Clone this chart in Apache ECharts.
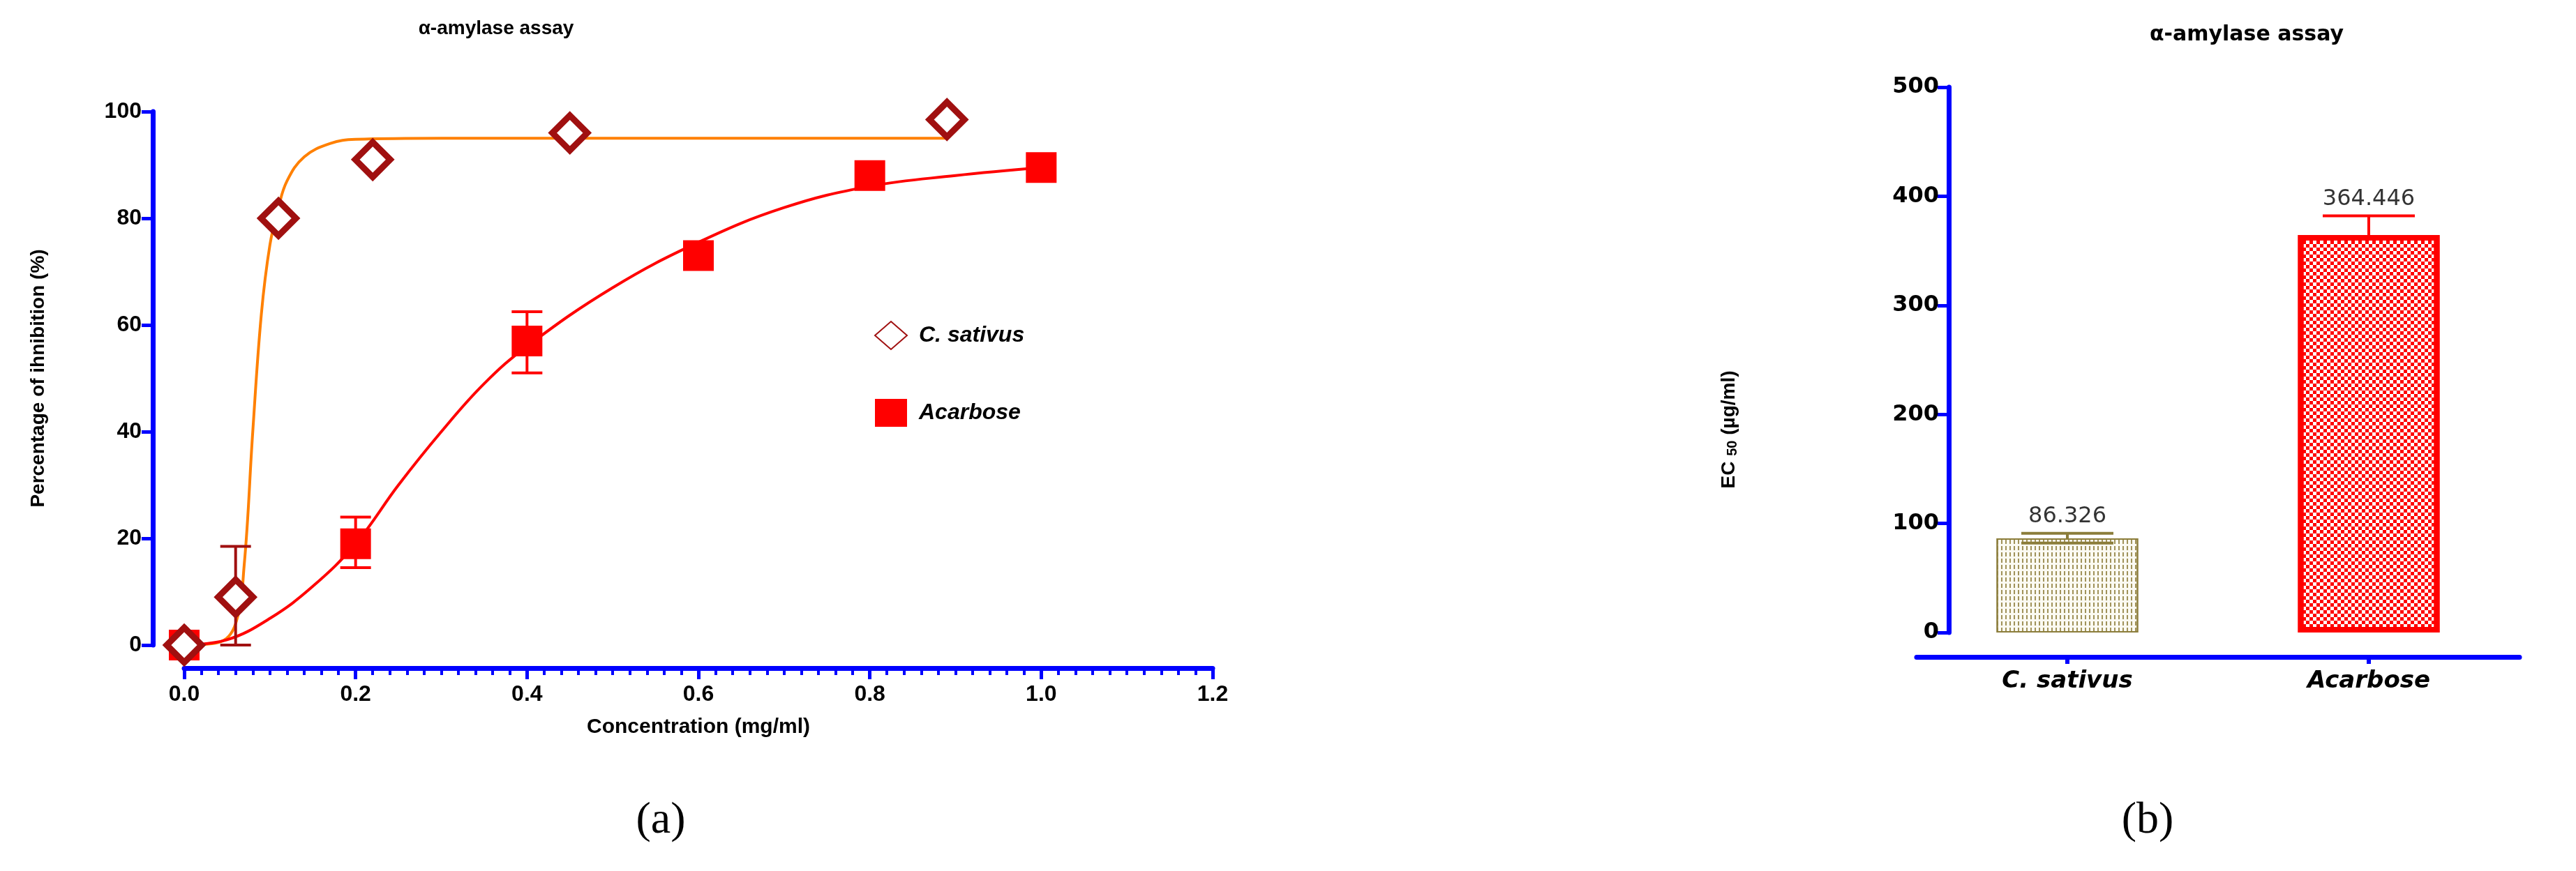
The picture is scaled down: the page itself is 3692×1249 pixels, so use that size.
<!DOCTYPE html>
<html style="height:100%">
<head>
<meta charset="utf-8">
<script src="https://cdn.jsdelivr.net/npm/echarts@6/dist/echarts.min.js"></script>
</head>
<body style="height:100%;margin:0;background:#fff">
<div id="container" style="width:3692px;height:1249px"></div>
<script type="text/javascript">

// panel (a): measured points
let sativusX = [0, 0.06, 0.11, 0.22, 0.45, 0.89]
let sativusY = [0, 9, 80, 91, 96, 98.5]
let acarboseX = [0, 0.2, 0.4, 0.6, 0.8, 1.0]
let acarboseY = [0, 19, 57, 73, 88, 89.5]
// error bars [x, low, high]
let sativusErr = [[0.06, 0, 18.5]]
let acarboseErr = [[0.2, 14.5, 24], [0.4, 51, 62.5]]
// fitted curves
let sativusFitX = [0, 0.04, 0.06, 0.07, 0.08, 0.09, 0.1, 0.11, 0.12, 0.14, 0.17, 0.2, 0.3, 0.89]
let sativusFitY = [0, 0.5, 4, 15, 40, 62, 75, 82, 87, 91.5, 94, 94.8, 95, 95]
let acarboseFitX = [0, 0.05, 0.1, 0.15, 0.2, 0.25, 0.3, 0.35, 0.4, 0.5, 0.6, 0.7, 0.8, 0.9, 1.0]
let acarboseFitY = [0, 1, 5, 11, 19, 30, 40, 49, 56, 67, 75.5, 82, 86, 88, 89.5]

// panel (b)
let categories = ['C. sativus', 'Acarbose']
let ec50 = [86.326, 364.446]
let ec50Err = [[0, 82, 91], [1, null, 382]]

let zip = (xs, ys) => xs.map((x, i) => [x, ys[i]])

function errBar(color) {
    return function (params, api) {
        let x = api.value(0), lo = api.value(1), hi = api.value(2)
        let top = api.coord([x, hi])
        let mid = api.coord([x, lo])
        let w = 22
        return {
            type: 'group',
            children: [
                {type: 'line', shape: {x1: top[0], y1: top[1], x2: mid[0], y2: mid[1]}, style: {stroke: color, lineWidth: 4}},
                {type: 'line', shape: {x1: top[0] - w, y1: top[1], x2: top[0] + w, y2: top[1]}, style: {stroke: color, lineWidth: 4}},
                {type: 'line', shape: {x1: mid[0] - w, y1: mid[1], x2: mid[0] + w, y2: mid[1]}, style: {stroke: color, lineWidth: 4}}
            ]
        }
    }
}

function barErr(params, api) {
    let i = api.value(0), lo = api.value(1), hi = api.value(2)
    let color = i === 0 ? '#8B7D3A' : '#ff0000'
    let top = api.coord([i, hi])
    let base = api.coord([i, ec50[i]])
    let w = 66
    let children = [
        {type: 'line', shape: {x1: top[0], y1: top[1], x2: base[0], y2: base[1]}, style: {stroke: color, lineWidth: 4}},
        {type: 'line', shape: {x1: top[0] - w, y1: top[1], x2: top[0] + w, y2: top[1]}, style: {stroke: color, lineWidth: 4}}
    ]
    if (lo !== null && !isNaN(lo)) {
        let low = api.coord([i, lo])
        children.push({type: 'line', shape: {x1: top[0] - w, y1: low[1], x2: top[0] + w, y2: low[1]}, style: {stroke: color, lineWidth: 4}})
    }
    return {type: 'group', children: children}
}

let axisLbl = {color: '#000', fontWeight: 'bold', fontSize: 32, fontFamily: 'Liberation Sans'}
let blueLine = {show: true, onZero: false, lineStyle: {color: '#0000ff', width: 7}}

let chart = echarts.init(document.getElementById('container'))
chart.setOption({
    animation: false,
    title: [
        {text: 'α-amylase assay', left: 706, top: 22, textAlign: 'center',
         textStyle: {fontSize: 28, fontWeight: 'bold', color: '#000', fontFamily: 'Liberation Sans'}},
        {text: 'α-amylase assay', left: 3215, top: 30, textAlign: 'center',
         textStyle: {fontSize: 30, fontWeight: 'bold', color: '#000', fontFamily: 'DejaVu Sans'}},
        {text: '(a)', left: 942, top: 1140, textAlign: 'center',
         textStyle: {fontSize: 64, fontWeight: 'normal', color: '#000', fontFamily: 'Liberation Serif'}},
        {text: '(b)', left: 3073, top: 1140, textAlign: 'center',
         textStyle: {fontSize: 64, fontWeight: 'normal', color: '#000', fontFamily: 'Liberation Serif'}}
    ],
    legend: {
        left: 1248, top: 455, orient: 'vertical', itemGap: 70,
        itemWidth: 46, itemHeight: 40,
        data: ['C. sativus', 'Acarbose'],
        textStyle: {fontSize: 32, fontWeight: 'bold', fontStyle: 'italic', color: '#000', fontFamily: 'Liberation Sans', padding: [0, 0, 0, 12]}
    },
    grid: [
        {left: 264, width: 1474, top: 160, height: 765},
        {left: 2747, width: 864, top: 125, height: 782}
    ],
    xAxis: [
        {gridIndex: 0, type: 'value', min: 0, max: 1.2, interval: 0.2, offset: 33,
         name: 'Concentration (mg/ml)', nameLocation: 'middle', nameGap: 70,
         nameTextStyle: {fontSize: 30, fontWeight: 'bold', color: '#000', fontFamily: 'Liberation Sans'},
         axisLine: blueLine,
         axisTick: {show: true, length: 16, lineStyle: {color: '#0000ff', width: 5}},
         minorTick: {show: true, splitNumber: 10, length: 10, lineStyle: {color: '#0000ff', width: 4}},
         splitLine: {show: false},
         axisLabel: Object.assign({margin: 22, formatter: v => v.toFixed(1)}, axisLbl)},
        {gridIndex: 1, type: 'category', data: categories, offset: 35,
         axisLine: blueLine,
         axisTick: {show: true, alignWithLabel: true, length: 10, lineStyle: {color: '#0000ff', width: 6}},
         axisLabel: {color: '#000', fontWeight: 'bold', fontStyle: 'italic', fontSize: 34, fontFamily: 'DejaVu Sans', margin: 18}}
    ],
    yAxis: [
        {gridIndex: 0, type: 'value', min: 0, max: 100, interval: 20, offset: 45,
         name: 'Percentage of ihnibition (%)', nameLocation: 'middle', nameGap: 150,
         nameTextStyle: {fontSize: 28, fontWeight: 'bold', color: '#000', fontFamily: 'Liberation Sans'},
         axisLine: blueLine,
         axisTick: {show: true, length: 16, lineStyle: {color: '#0000ff', width: 5}},
         splitLine: {show: false},
         axisLabel: Object.assign({margin: 16}, axisLbl)},
        {gridIndex: 1, type: 'value', min: 0, max: 500, interval: 100, offset: -46,
         name: '{a|EC }{b|50}{a| (µg/ml)}', nameLocation: 'middle', nameGap: 300,
         nameTextStyle: {color: '#000', rich: {
             a: {fontSize: 28, fontWeight: 'bold', color: '#000', fontFamily: 'Liberation Sans'},
             b: {fontSize: 20, fontWeight: 'bold', color: '#000', fontFamily: 'Liberation Sans', padding: [10, 0, 0, 0]}
         }, padding: [0, 200, 0, 0]},
         axisLine: blueLine,
         axisTick: {show: true, length: 16, lineStyle: {color: '#0000ff', width: 5}},
         splitLine: {show: false},
         axisLabel: {color: '#000', fontWeight: 'bold', fontSize: 32, fontFamily: 'DejaVu Sans', margin: 14}}
    ],
    series: [
        {type: 'line', xAxisIndex: 0, yAxisIndex: 0, data: zip(sativusFitX, sativusFitY), smooth: 0.4,
         showSymbol: false, lineStyle: {color: '#ff8000', width: 4}, z: 2},
        {type: 'line', xAxisIndex: 0, yAxisIndex: 0, data: zip(acarboseFitX, acarboseFitY), smooth: 0.4,
         showSymbol: false, lineStyle: {color: '#ff0000', width: 4}, z: 2},
        {type: 'custom', xAxisIndex: 0, yAxisIndex: 0, data: sativusErr, renderItem: errBar('#a01010'), z: 3},
        {type: 'custom', xAxisIndex: 0, yAxisIndex: 0, data: acarboseErr, renderItem: errBar('#ff0000'), z: 3},
        {name: 'Acarbose', type: 'scatter', xAxisIndex: 0, yAxisIndex: 0, data: zip(acarboseX, acarboseY),
         symbol: 'rect', symbolSize: 44, itemStyle: {color: '#ff0000', opacity: 1}, z: 4},
        {name: 'C. sativus', type: 'scatter', xAxisIndex: 0, yAxisIndex: 0, data: zip(sativusX, sativusY),
         symbol: 'diamond', symbolSize: 50, itemStyle: {color: '#fff', borderColor: '#a01010', borderWidth: 9, opacity: 1}, z: 5},
        {type: 'bar', xAxisIndex: 1, yAxisIndex: 1, barWidth: 203,
         data: [
             {value: ec50[0], itemStyle: {color: '#fbfaf2', borderColor: '#8B7D3A', borderWidth: 2,
                 decal: {symbol: 'rect', color: '#a0925a', dashArrayX: [[2, 4]], dashArrayY: [6, 3], symbolSize: 1}}},
             {value: ec50[1], itemStyle: {color: '#ffffff', borderColor: '#ff0000', borderWidth: 8,
                 decal: {symbol: 'rect', color: '#ff0000', dashArrayX: [[5, 5], [0, 5, 5, 0]], dashArrayY: [5, 0], symbolSize: 1}}}
         ]},
        {type: 'custom', xAxisIndex: 1, yAxisIndex: 1, data: ec50Err, renderItem: barErr, z: 3},
        {type: 'scatter', xAxisIndex: 1, yAxisIndex: 1, symbolSize: 0,
         data: [[0, 91], [1, 382]],
         label: {show: true, position: 'top', distance: 8, formatter: p => ec50[p.dataIndex].toFixed(3),
             fontSize: 32, color: '#000', fontFamily: 'DejaVu Sans'}}
    ]
})
</script>
</body>
</html>
